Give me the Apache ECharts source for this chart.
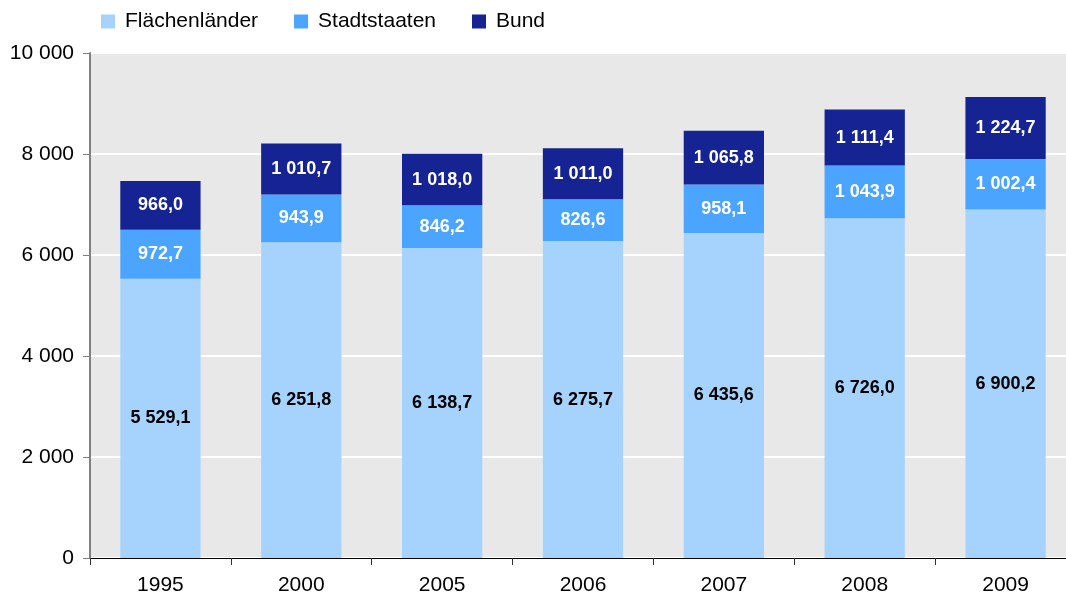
<!DOCTYPE html>
<html>
<head>
<meta charset="utf-8">
<script src="https://cdn.jsdelivr.net/npm/echarts@6/dist/echarts.min.js"></script>
<style>
  html, body { margin: 0; padding: 0; background: #fff; overflow: hidden; }
  /* plot area runs past the right edge of the picture, as in the original */
  #chart { width: 1076px; height: 601px; }
</style>
</head>
<body>
<div id="chart"></div>
<script>
const years = ["1995", "2000", "2005", "2006", "2007", "2008", "2009"];
const flaechenlaender = [5529.1, 6251.8, 6138.7, 6275.7, 6435.6, 6726.0, 6900.2];
const stadtstaaten = [972.7, 943.9, 846.2, 826.6, 958.1, 1043.9, 1002.4];
const bund = [966.0, 1010.7, 1018.0, 1011.0, 1065.8, 1111.4, 1224.7];

const font = "Liberation Sans, Arial, sans-serif";

// 1234.5 -> "1 234,5"
function de(v, dec) {
  const s = v.toFixed(dec).split(".");
  const int = s[0].replace(/\B(?=(\d{3})+(?!\d))/g, " ");
  return s.length > 1 ? int + "," + s[1] : int;
}

const chart = echarts.init(document.getElementById("chart"));

function bar(name, data, color, labelColor) {
  return {
    name: name,
    type: "bar",
    stack: "total",
    data: data,
    barCategoryGap: "43%",
    itemStyle: { color: color },
    label: {
      show: true,
      position: "inside",
      color: labelColor,
      fontFamily: font,
      fontWeight: "bold",
      fontSize: 18,
      formatter: (p) => de(p.value, 1),
    },
  };
}

chart.setOption({
  animation: false,
  textStyle: { fontFamily: font },
  legend: {
    top: 6,
    left: 96,
    itemWidth: 14,
    itemHeight: 14,
    itemGap: 36,
    icon: "rect",
    textStyle: { fontSize: 21, color: "#000", fontFamily: font, padding: [0, 0, 0, 5] },
    data: ["Flächenländer", "Stadtstaaten", "Bund"],
  },
  grid: {
    left: 90,
    right: 0,
    top: 53,
    bottom: 43,
    show: true,
    backgroundColor: "#e8e8e8",
    borderWidth: 0,
  },
  xAxis: {
    type: "category",
    data: years,
    axisLine: { lineStyle: { color: "#000", width: 1 } },
    axisTick: { show: true, length: 7, lineStyle: { color: "#333" } },
    axisLabel: { fontSize: 21, color: "#000", margin: 17, fontFamily: font },
  },
  yAxis: {
    type: "value",
    min: 0,
    max: 10000,
    interval: 2000,
    axisLine: { show: true, lineStyle: { color: "#808080", width: 2 } },
    axisTick: { show: true, length: 7, lineStyle: { color: "#808080" } },
    axisLabel: {
      fontSize: 21,
      color: "#000",
      margin: 16,
      fontFamily: font,
      formatter: (v) => de(v, 0),
    },
    splitLine: { show: true, lineStyle: { color: "#ffffff", width: 2 } },
  },
  series: [
    bar("Flächenländer", flaechenlaender, "#a6d3fd", "#000"),
    bar("Stadtstaaten", stadtstaaten, "#4ba4fd", "#fff"),
    bar("Bund", bund, "#162493", "#fff"),
  ],
});
</script>
</body>
</html>
